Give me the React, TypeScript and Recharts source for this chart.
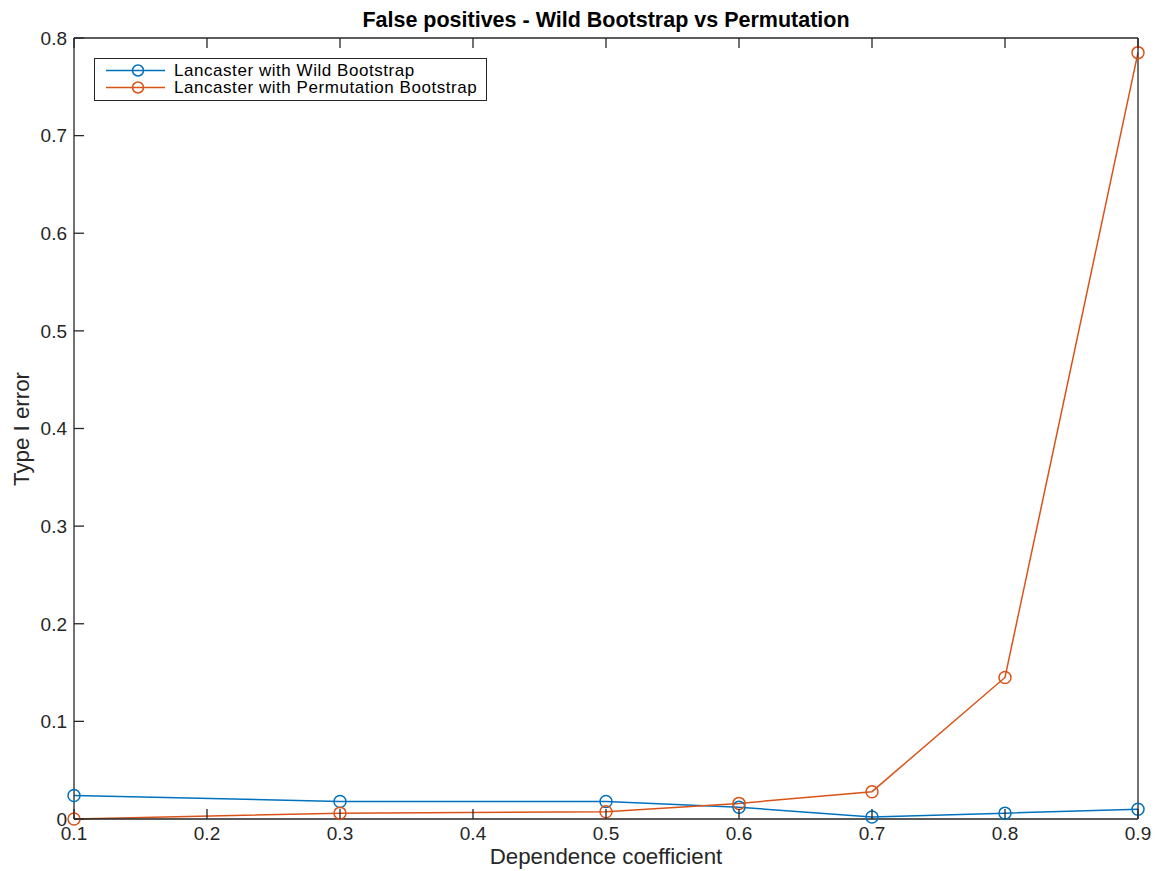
import { LineChart, Line, XAxis, YAxis } from "recharts";

const xValues = [0.1, 0.3, 0.5, 0.6, 0.7, 0.8, 0.9];
const wildBootstrap = [0.024, 0.018, 0.018, 0.012, 0.002, 0.006, 0.01];
const permutation = [0, 0.006, 0.0075, 0.016, 0.028, 0.145, 0.785];
const xTicks = [0.1, 0.2, 0.3, 0.4, 0.5, 0.6, 0.7, 0.8, 0.9];
const yTicks = [0, 0.1, 0.2, 0.3, 0.4, 0.5, 0.6, 0.7, 0.8];

const BLUE = "#0072BD";
const ORANGE = "#D95319";
const AXIS = "#262626";
const FONT = "'Liberation Sans', Arial, Helvetica, sans-serif";

const W = 1158;
const H = 871;
const LEFT = 74;
const RIGHT = 1138;
const TOP = 38;
const BOTTOM = 819;

const data = xValues.map((x, i) => ({
  x,
  wild: wildBootstrap[i],
  perm: permutation[i],
}));

const fmt = (v: number) => (v === 0 ? "0" : v.toFixed(1));

const BottomTick = ({ x, y, payload }: any) => (
  <g>
    <line x1={x} x2={x} y1={y} y2={y - 10} stroke={AXIS} strokeWidth={1.3} />
    <text x={x} y={y + 21} textAnchor="middle" fontSize={19} fill={AXIS} fontFamily={FONT}>
      {fmt(payload.value)}
    </text>
  </g>
);

const TopTick = ({ x, y }: any) => (
  <line x1={x} x2={x} y1={y} y2={y + 10} stroke={AXIS} strokeWidth={1.3} />
);

const LeftTick = ({ x, y, payload }: any) => (
  <g>
    <line x1={x} x2={x + 10} y1={y} y2={y} stroke={AXIS} strokeWidth={1.3} />
    <text x={x - 7} y={y} dy="0.36em" textAnchor="end" fontSize={19} fill={AXIS} fontFamily={FONT}>
      {fmt(payload.value)}
    </text>
  </g>
);

const RightTick = ({ x, y }: any) => (
  <line x1={x} x2={x - 10} y1={y} y2={y} stroke={AXIS} strokeWidth={1.3} />
);

const LegendRow = ({ color, label }: { color: string; label: string }) => (
  <div style={{ display: "flex", alignItems: "center", height: 17 }}>
    <svg width={70} height={17}>
      <line x1={11} x2={74} y1={8.5} y2={8.5} stroke={color} strokeWidth={1.5} />
      <circle cx={43} cy={8.5} r={5.5} fill="none" stroke={color} strokeWidth={1.5} />
    </svg>
    <span
      style={{
        fontSize: 17,
        letterSpacing: 0.55,
        color: "#000",
        lineHeight: "17px",
        marginLeft: 9,
        whiteSpace: "nowrap",
      }}
    >
      {label}
    </span>
  </div>
);

export default function App() {
  const axisLine = { stroke: AXIS, strokeWidth: 1.3 };
  return (
    <div style={{ position: "absolute", left: 0, top: 0, width: W, height: H, background: "#fff", fontFamily: FONT }}>
      <LineChart
        width={W}
        height={H}
        data={data}
        margin={{ top: TOP - 1, right: W - RIGHT - 1, bottom: 0, left: 0 }}
      >
        <XAxis
          xAxisId="bottom"
          dataKey="x"
          type="number"
          domain={[0.1, 0.9]}
          ticks={xTicks}
          height={H - BOTTOM}
          tickSize={0}
          tickMargin={0}
          tickLine={false}
          axisLine={axisLine}
          tick={<BottomTick />}
          interval={0}
        />
        <XAxis
          xAxisId="top"
          orientation="top"
          dataKey="x"
          type="number"
          domain={[0.1, 0.9]}
          ticks={xTicks}
          height={1}
          tickSize={0}
          tickMargin={0}
          tickLine={false}
          axisLine={axisLine}
          tick={<TopTick />}
          interval={0}
        />
        <YAxis
          yAxisId="left"
          type="number"
          domain={[0, 0.8]}
          ticks={yTicks}
          width={LEFT}
          tickSize={0}
          tickMargin={0}
          tickLine={false}
          axisLine={axisLine}
          tick={<LeftTick />}
          interval={0}
        />
        <YAxis
          yAxisId="right"
          orientation="right"
          type="number"
          domain={[0, 0.8]}
          ticks={yTicks}
          width={1}
          tickSize={0}
          tickMargin={0}
          tickLine={false}
          axisLine={axisLine}
          tick={<RightTick />}
          interval={0}
        />
        <Line
          xAxisId="bottom"
          yAxisId="left"
          type="linear"
          dataKey="wild"
          stroke={BLUE}
          strokeWidth={1.5}
          dot={{ r: 6, fill: "none", stroke: BLUE, strokeWidth: 1.5 }}
          isAnimationActive={false}
        />
        <Line
          xAxisId="bottom"
          yAxisId="left"
          type="linear"
          dataKey="perm"
          stroke={ORANGE}
          strokeWidth={1.5}
          dot={{ r: 6, fill: "none", stroke: ORANGE, strokeWidth: 1.5 }}
          isAnimationActive={false}
        />
      </LineChart>

      <div
        style={{
          position: "absolute",
          left: LEFT,
          width: RIGHT - LEFT,
          top: 8,
          textAlign: "center",
          fontWeight: "bold",
          fontSize: 21.5,
          color: "#000",
          lineHeight: "24px",
        }}
      >
        False positives - Wild Bootstrap vs Permutation
      </div>

      <div
        style={{
          position: "absolute",
          left: LEFT,
          width: RIGHT - LEFT,
          top: 844,
          textAlign: "center",
          fontSize: 22.3,
          color: AXIS,
          lineHeight: "26px",
        }}
      >
        Dependence coefficient
      </div>

      <div
        style={{
          position: "absolute",
          left: 22,
          top: (TOP + BOTTOM) / 2,
          transform: "translate(-50%, -50%) rotate(-90deg)",
          fontSize: 22.3,
          color: AXIS,
          whiteSpace: "nowrap",
          lineHeight: "26px",
        }}
      >
        Type I error
      </div>

      <div
        style={{
          position: "absolute",
          left: 94,
          top: 58,
          width: 393,
          height: 43,
          boxSizing: "border-box",
          border: `1.3px solid ${AXIS}`,
          background: "#fff",
          padding: "3px 0 0 0",
        }}
      >
        <LegendRow color={BLUE} label="Lancaster with Wild Bootstrap" />
        <LegendRow color={ORANGE} label="Lancaster with Permutation Bootstrap" />
      </div>
    </div>
  );
}
